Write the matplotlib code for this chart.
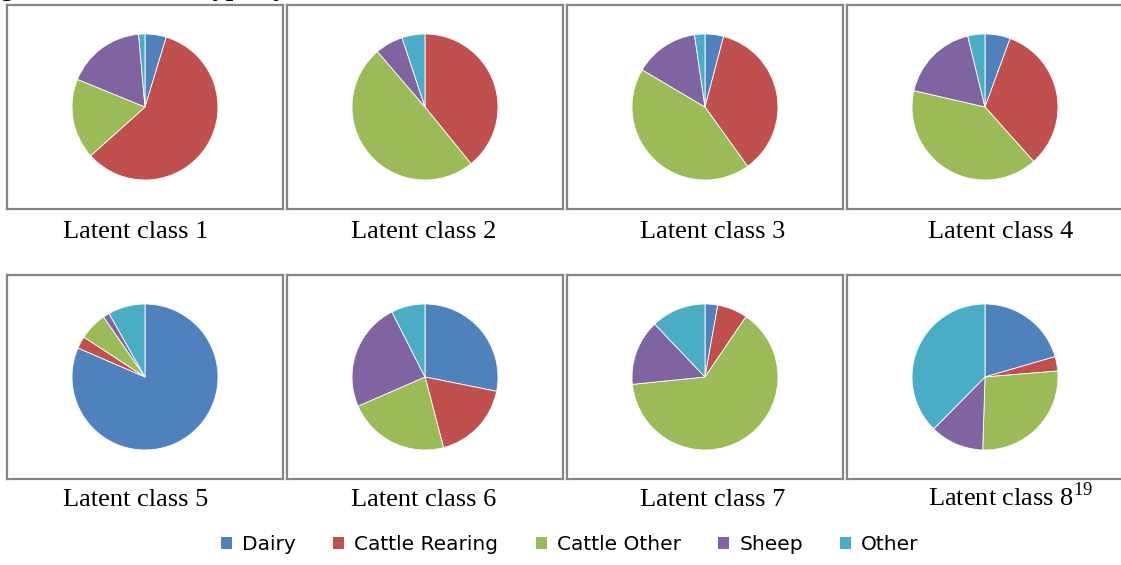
import matplotlib.pyplot as plt
from matplotlib.patches import Patch

plt.rcParams['mathtext.fontset'] = 'custom'
plt.rcParams['mathtext.rm'] = 'Liberation Serif'

# Shares (%) per latent class
categorias = ['Dairy', 'Cattle Rearing', 'Cattle Other', 'Sheep', 'Other']
cores = ['#4F81BD', '#C0504D', '#9BBB59', '#8064A2', '#4BACC6']
classe_1 = [4.7, 58.6, 17.8, 17.4, 1.4]
classe_2 = [0.0, 39.2, 49.6, 6.2, 5.1]
classe_3 = [4.1, 36.0, 43.4, 14.2, 2.3]
classe_4 = [5.6, 32.8, 40.2, 17.6, 3.8]
classe_5 = [81.5, 2.7, 6.2, 1.4, 8.2]
classe_6 = [28.2, 17.8, 22.6, 24.1, 7.5]
classe_7 = [2.8, 6.7, 63.9, 14.5, 12.1]
classe_8 = [20.5, 3.2, 26.8, 11.9, 37.6]
rotulos = ['Latent class 1', 'Latent class 2', 'Latent class 3', 'Latent class 4',
           'Latent class 5', 'Latent class 6', 'Latent class 7', r'Latent class 8$^{19}$']

classes = [classe_1, classe_2, classe_3, classe_4, classe_5, classe_6, classe_7, classe_8]

W, H = 1121, 565
fig = plt.figure(figsize=(W / 100, H / 100), dpi=100)

# pixel layout of the boxes
box_x = [7, 287, 567, 847]
box_y = [5, 275]
box_w, box_h = 276, 204
raio = 73
label_x = [63, 351, 640, 928]
label_base = [238, 506]

for i, valores in enumerate(classes):
    lin, col = divmod(i, 4)
    x0, y0 = box_x[col], box_y[lin]
    ax = fig.add_axes([x0 / W, 1 - (y0 + box_h) / H, box_w / W, box_h / H])
    ax.pie(valores, colors=cores, startangle=90, counterclock=False,
           wedgeprops=dict(edgecolor='white', linewidth=0.6))
    ax.set_frame_on(True)
    ax.set_aspect('auto')
    ax.set_xlim(-box_w / 2 / raio, box_w / 2 / raio)
    ax.set_ylim(-box_h / 2 / raio, box_h / 2 / raio)
    ax.set_xticks([])
    ax.set_yticks([])
    for s in ax.spines.values():
        s.set_visible(True)
        s.set_color('#868686')
        s.set_linewidth(1.6)
    fig.text(label_x[col] / W, 1 - label_base[lin] / H, rotulos[i],
             family='Liberation Serif', fontsize=19, ha='left', va='baseline')

# caption mostly above the top edge, as in the source
fig.text(-23 / W, 1 + 4 / H, 'Figure 4: Best farm type by latent class classification for the 8 classes',
         family='Liberation Serif', fontweight='bold', fontsize=19, ha='left', va='baseline')

handles = [Patch(facecolor=c, edgecolor='none') for c in cores]
fig.legend(handles, categorias, loc='center', ncol=5, frameon=False,
           bbox_to_anchor=(570 / W, 1 - 545 / H), fontsize=14.5,
           handlelength=0.55, handleheight=0.55, handletextpad=0.5, columnspacing=1.85)

plt.savefig('out.png', dpi=100)
